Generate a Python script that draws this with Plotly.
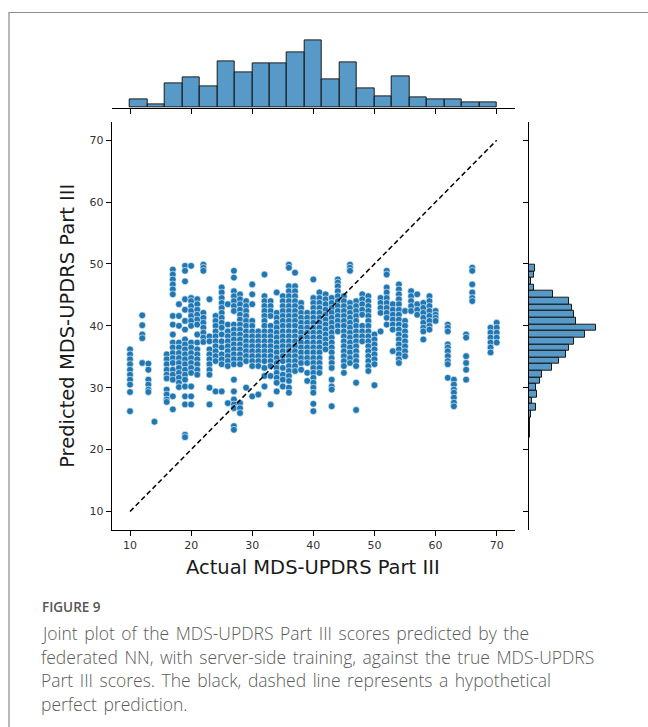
import numpy as np
import plotly.graph_objects as go

# Actual MDS-UPDRS Part III score (one entry per column of points)
actual_scores = [10, 12, 13, 14, 16, 17, 18, 19, 20, 21, 22, 23, 24, 25, 26, 27, 28, 29,
                 30, 31, 32, 33, 34, 35, 36, 37, 38, 39, 40, 41, 42, 43, 44, 45, 46, 47,
                 48, 49, 50, 51, 52, 53, 54, 55, 56, 57, 58, 59, 60, 62, 63, 65, 66, 69, 70]

# Predicted scores for each actual score above
predicted_scores = [
    [36.2, 35.4, 34.6, 33.8, 32.9, 32.1, 31.3, 30.5, 29.3, 26.2],
    [41.7, 40.1, 38.6, 38.0, 34.0],
    [33.9, 32.9, 31.3, 30.5, 29.7, 29.3],
    [24.5],
    [35.4, 34.6, 33.8, 32.9, 32.1, 31.5, 29.7, 28.9, 28.1, 27.7],
    [49.1, 48.3, 47.5, 46.7, 45.9, 45.1, 41.6, 40.2, 38.6, 37.3, 36.5, 35.6, 34.8, 34.0, 32.9, 32.1, 31.3, 28.6, 26.5],
    [43.5, 41.6, 40.0, 37.3, 36.5, 35.6, 34.8, 34.0, 33.2, 32.4, 31.6, 30.8, 30.1],
    [49.7, 48.9, 47.2, 44.3, 42.6, 40.8, 39.4, 37.8, 37.0, 36.2, 35.4, 34.6, 33.8, 32.9, 32.1, 31.3, 30.2, 28.6, 27.3, 22.4, 22.0],
    [49.7, 44.5, 44.0, 43.2, 42.4, 41.6, 40.8, 40.0, 37.3, 36.5, 35.6, 34.8, 34.0, 33.2, 32.4, 30.2, 28.6, 27.3],
    [44.3, 43.5, 42.6, 41.8, 41.0, 40.2, 38.6, 37.3, 36.2, 35.4, 34.6, 33.8, 32.9, 32.1],
    [49.9, 49.4, 48.9, 42.1, 41.3, 40.5, 39.7, 38.9, 38.1, 37.4],
    [44.3, 38.3, 37.5, 36.2, 35.4, 34.6, 33.8, 32.9, 32.1, 30.0, 27.3],
    [41.6, 40.8, 40.0, 39.1, 38.3, 37.5, 36.7, 35.9, 35.1, 34.3, 29.4],
    [46.2, 45.4, 44.5, 43.7, 42.9, 42.1, 41.3, 40.5, 39.7, 38.6, 37.5, 36.5, 35.4, 34.6, 33.8, 29.4],
    [43.5, 40.2, 39.1, 38.3, 37.5, 36.7, 35.9, 35.1, 34.3, 33.5, 27.5],
    [48.9, 47.8, 45.6, 44.8, 44.0, 43.2, 42.4, 40.2, 39.4, 38.6, 37.8, 37.0, 36.2, 35.4, 34.6, 33.8, 31.3, 29.4, 28.1, 27.3, 26.7, 23.8, 23.2],
    [45.1, 44.3, 43.5, 42.6, 41.8, 41.0, 40.2, 39.4, 38.6, 37.8, 37.0, 36.2, 35.4, 34.6, 33.8, 27.5, 26.7, 25.9],
    [44.0, 43.2, 42.4, 41.6, 40.8, 40.0, 39.1, 38.3, 37.5, 36.7, 35.9, 35.1, 34.3, 30.0],
    [46.7, 45.1, 43.5, 40.8, 40.0, 39.1, 38.3, 37.5, 36.7, 35.9, 35.1, 34.3, 33.5, 28.6],
    [39.1, 38.3, 37.5, 36.7, 35.9, 35.1, 34.3, 33.5, 28.9],
    [48.3, 44.8, 44.0, 43.2, 42.4, 41.6, 40.8, 40.0, 39.1, 38.3, 37.5, 36.7, 35.9, 35.1, 34.3, 33.2, 31.9, 30.2],
    [44.0, 43.2, 42.4, 41.6, 40.0, 39.1, 38.3, 37.5, 36.7, 35.9, 35.1, 34.3, 33.5, 31.9, 27.3],
    [45.4, 42.1, 41.3, 40.5, 39.7, 38.9, 38.1, 37.3, 36.5, 35.7, 34.8, 34.0, 33.2, 32.4, 31.6, 30.8, 29.4],
    [44.8, 44.0, 43.2, 42.4, 41.6, 40.8, 40.0, 39.1, 38.3, 37.5, 36.7, 35.9, 35.1, 34.3, 33.2, 32.1, 31.3, 30.2],
    [49.9, 49.4, 46.4, 45.6, 44.8, 44.0, 43.2, 42.4, 41.6, 40.8, 40.0, 39.1, 38.3, 37.5, 36.7, 35.9, 35.1, 34.3, 33.5, 32.7, 31.9, 31.1, 30.0, 29.2],
    [48.6, 46.4, 45.6, 44.8, 44.0, 43.2, 42.4, 41.6, 40.8, 40.0, 39.1, 38.3, 37.5, 36.7, 35.9, 35.1, 34.3, 33.5, 32.7],
    [43.7, 42.9, 42.1, 41.3, 40.5, 39.7, 38.9, 38.1, 37.3, 36.5, 35.7, 34.8, 34.0, 32.9],
    [42.1, 41.3, 40.5, 39.7, 38.9, 38.1, 37.3, 36.5, 35.7, 34.8, 34.0, 32.4, 31.1],
    [47.5, 44.5, 43.7, 42.9, 42.1, 41.3, 40.5, 39.7, 38.9, 38.1, 37.3, 36.5, 35.7, 34.8, 34.0, 33.2, 32.4, 31.6, 30.8, 30.0, 29.2, 27.4, 26.2],
    [45.4, 44.5, 43.7, 42.9, 42.1, 41.3, 40.5, 39.7, 38.9, 38.1, 37.3, 36.5, 35.7, 34.8, 34.0, 33.2, 32.4],
    [45.1, 44.3, 43.5, 42.6, 41.8, 41.0, 40.2, 39.4, 38.6, 37.8, 37.0, 36.2],
    [44.5, 43.7, 42.9, 42.1, 41.3, 40.5, 39.7, 38.9, 38.1, 37.3, 36.5, 35.7, 34.8, 34.0, 33.2, 31.3, 30.2, 29.7, 27.0],
    [47.5, 47.0, 46.4, 45.6, 44.8, 44.0, 43.2, 42.4, 41.6, 40.8, 40.0, 39.1],
    [44.8, 44.0, 43.2, 42.4, 41.6, 40.8, 40.0, 39.1, 38.3, 37.5, 36.7, 35.9, 35.1, 34.3, 33.5, 32.4],
    [49.9, 49.4, 48.9, 43.7, 42.9, 42.1, 41.3, 40.5, 39.7, 38.9, 38.1, 37.3, 36.5, 35.7, 34.8, 34.0],
    [44.0, 43.2, 42.4, 41.6, 40.8, 40.0, 39.1, 38.3, 37.5, 36.7, 35.9, 35.1, 34.3, 33.5, 30.8, 26.4],
    [45.1, 44.3, 43.5, 42.6, 41.8, 40.0, 39.1, 38.3, 37.5],
    [44.8, 44.0, 43.2, 42.4, 41.6, 40.8, 40.0, 39.1, 38.3, 37.5, 36.7, 35.9, 35.1, 34.3, 33.5, 32.7],
    [38.6, 37.8, 37.0, 36.2, 35.4, 34.6, 33.8, 30.4],
    [44.5, 43.7, 42.9, 42.1, 39.1],
    [48.9, 48.3, 46.2, 45.4, 44.5, 43.7, 42.9, 42.1, 41.3, 40.2],
    [43.5, 42.6, 41.8, 41.0, 40.2, 39.4, 35.9],
    [46.7, 45.9, 45.1, 44.3, 43.5, 42.6, 41.8, 41.0, 40.2, 39.4, 38.6, 37.8, 37.0, 36.2, 35.4, 34.6, 34.0],
    [42.4, 40.8, 40.0, 39.1, 38.3, 37.5, 36.7, 35.9, 35.1],
    [45.6, 44.8, 44.0, 43.2, 42.4],
    [45.1, 43.5, 42.6, 41.8],
    [43.7, 42.9, 42.1, 41.3, 40.5, 39.7, 39.1, 37.8],
    [44.8, 44.0, 43.2, 42.4, 41.6, 40.8, 40.0, 39.4],
    [42.4, 41.8, 41.3, 40.8],
    [40.2, 39.7, 39.1, 37.0, 36.5, 35.9, 35.1, 34.3, 33.8, 31.6],
    [31.3, 30.5, 29.7, 29.2, 28.4, 27.6, 27.0],
    [38.6, 38.1, 35.1, 34.0, 32.9, 31.3],
    [49.4, 48.9, 46.7, 45.4, 44.5, 44.0],
    [39.7, 38.9, 38.1, 37.3, 36.5, 35.7],
    [40.5, 39.7, 38.9, 38.1, 37.3],
]

# Marginal histogram counts (actual: left to right, predicted: bottom to top)
actual_hist_counts = [17, 7, 49, 61, 43, 93, 71, 89, 89, 111, 135, 57, 91, 39, 23, 63, 21, 17, 17, 11, 11]
predicted_hist_counts = [2, 1, 1, 4, 13, 5, 15, 14, 21, 25, 45, 59, 73, 79, 89, 111, 132,
                         93, 89, 85, 79, 47, 9, 4, 9, 11]

axis_ticks = [10, 20, 30, 40, 50, 60, 70]

x_label = "Actual MDS-UPDRS Part III"
y_label = "Predicted MDS-UPDRS Part III"
fig_label = "FIGURE 9"
caption_lines = [
    "Joint plot of the MDS-UPDRS Part III scores predicted by the",
    "federated NN, with server-side training, against the true MDS-UPDRS",
    "Part III scores. The black, dashed line represents a hypothetical",
    "perfect prediction.",
]

# ---- flatten the point cloud
xs = np.concatenate([[a] * len(p) for a, p in zip(actual_scores, predicted_scores)]).astype(float)
ys = np.concatenate([np.asarray(p, float) for p in predicted_scores])

lo, hi = xs.min(), xs.max()
pad = 0.05 * (hi - lo)
rng = [lo - pad, hi + pad]

x_edges = np.linspace(xs.min(), xs.max(), len(actual_hist_counts) + 1)
y_edges = np.linspace(ys.min(), ys.max(), len(predicted_hist_counts) + 1)
x_mid = (x_edges[:-1] + x_edges[1:]) / 2
y_mid = (y_edges[:-1] + y_edges[1:]) / 2

W, H = 648, 727
def px(v):
    return v / W
def py(v):
    return 1 - v / H

main_x = [px(111.7), px(515)]
main_y = [py(530), py(121.7)]
top_y = [py(107.7), py(37.4)]
right_x = [px(529), px(599.3)]

BLUE = "#1f77b4"
HIST_FILL = "rgba(31,119,180,0.75)"
EDGE = "#1a1a1a"
TICK_FONT = dict(family="DejaVu Sans", size=11, color="#333333")

fig = go.Figure()

fig.add_trace(go.Scatter(
    x=xs, y=ys, mode="markers", xaxis="x", yaxis="y",
    marker=dict(color=BLUE, size=6.8, line=dict(color="white", width=0.6)),
    showlegend=False, hoverinfo="skip",
))

# line of perfect prediction
fig.add_trace(go.Scatter(
    x=[lo, hi], y=[lo, hi], mode="lines", xaxis="x", yaxis="y",
    line=dict(color="black", width=1.5, dash="5px,3px"),
    showlegend=False, hoverinfo="skip",
))

fig.add_trace(go.Bar(
    x=x_mid, y=actual_hist_counts, width=x_edges[1] - x_edges[0],
    xaxis="x2", yaxis="y2",
    marker=dict(color=HIST_FILL, line=dict(color=EDGE, width=1)),
    showlegend=False, hoverinfo="skip",
))

fig.add_trace(go.Bar(
    y=y_mid, x=predicted_hist_counts, width=y_edges[1] - y_edges[0],
    orientation="h", xaxis="x3", yaxis="y3",
    marker=dict(color=HIST_FILL, line=dict(color=EDGE, width=1)),
    showlegend=False, hoverinfo="skip",
))

spine = dict(showline=True, linecolor="black", linewidth=1.2, ticks="outside",
             ticklen=5, tickwidth=1.2, tickcolor="black", showgrid=False,
             zeroline=False, tickfont=TICK_FONT)

fig.update_layout(
    width=W, height=H,
    margin=dict(l=0, r=0, t=0, b=0),
    paper_bgcolor="white", plot_bgcolor="white",
    bargap=0,
    xaxis=dict(domain=main_x, range=rng, anchor="y", tickvals=axis_ticks, **spine),
    yaxis=dict(domain=main_y, range=rng, anchor="x", tickvals=axis_ticks, **spine),
    xaxis2=dict(domain=main_x, range=rng, anchor="y2", tickvals=axis_ticks,
                showticklabels=False, **spine),
    yaxis2=dict(domain=top_y, range=[0, max(actual_hist_counts) * 1.05], anchor="x2",
                visible=False),
    xaxis3=dict(domain=right_x, range=[0, max(predicted_hist_counts) * 1.05], anchor="y3",
                visible=False),
    yaxis3=dict(domain=main_y, range=rng, anchor="x3", tickvals=axis_ticks,
                showticklabels=False, **spine),
)

annotations = [
    dict(text=x_label, x=(main_x[0] + main_x[1]) / 2, y=py(567), xref="paper", yref="paper",
         showarrow=False, xanchor="center", yanchor="middle",
         font=dict(family="DejaVu Sans", size=19.5, color="#1a1a1a")),
    dict(text=y_label, x=px(68), y=(main_y[0] + main_y[1]) / 2, xref="paper", yref="paper",
         showarrow=False, xanchor="center", yanchor="middle", textangle=-90,
         font=dict(family="DejaVu Sans", size=19.5, color="#1a1a1a")),
    dict(text=fig_label, x=px(40), y=py(607), xref="paper", yref="paper",
         showarrow=False, xanchor="left", yanchor="middle",
         font=dict(family="Open Sans", size=13.5, color="#555555", weight=600)),
]
for i, line in enumerate(caption_lines):
    annotations.append(dict(
        text='<span style="word-spacing:2px">' + line + "</span>",
        x=px(39), y=py(633 + 23.5 * i), xref="paper", yref="paper",
        showarrow=False, xanchor="left", yanchor="middle",
        font=dict(family="Open Sans", size=17.5, color="#5a5a5a", weight=300),
    ))
fig.update_layout(annotations=annotations)

# figure frame
fig.add_shape(type="rect", xref="paper", yref="paper",
              x0=px(9), x1=1.02, y0=-0.02, y1=py(12.5),
              line=dict(color="#8c8c8c", width=1.2), fillcolor="rgba(0,0,0,0)")

fig.write_html("out.html")
